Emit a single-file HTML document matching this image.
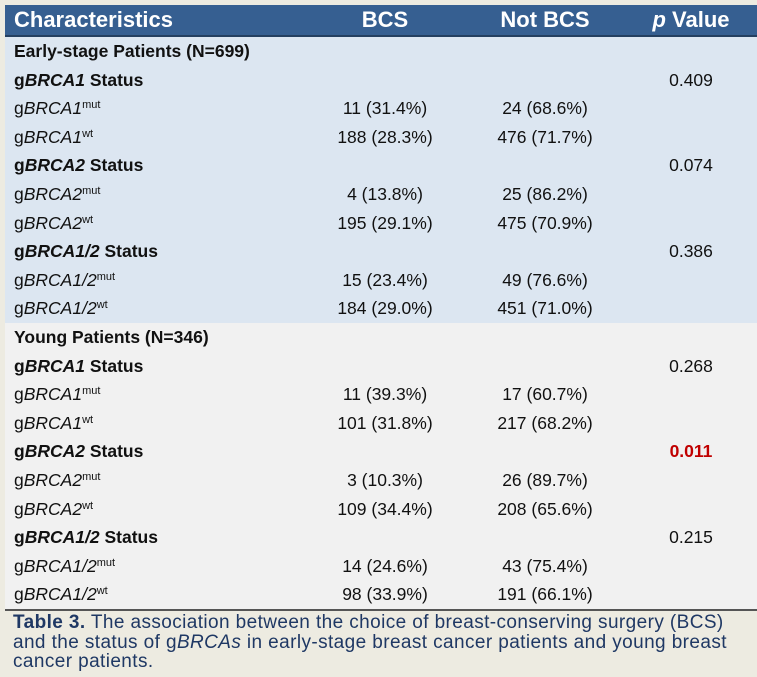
<!DOCTYPE html>
<html><head><meta charset="utf-8"><style>
body{margin:0;width:757px;height:677px;background:#edebe1;position:relative;overflow:hidden;font-family:"Liberation Sans",Arial,sans-serif;}
.hdr{position:absolute;left:5px;top:5px;width:752px;height:30px;background:#365f91;border-bottom:2px solid #243f60;}
.hdr div{position:absolute;top:2px;color:#fff;font-weight:bold;font-size:22px;line-height:26px;}
.sec{position:absolute;left:5px;width:752px;}
.r{position:absolute;left:0;width:752px;height:28.6px;font-size:17.5px;line-height:28.6px;color:#111;}
.r span{position:absolute;}
.c0{left:9px;}
.c1{left:275px;width:210px;text-align:center;}
.c2{left:435px;width:210px;text-align:center;}
.c3{left:631px;width:110px;text-align:center;}
.b{font-weight:bold;}
sup{font-size:11px;vertical-align:0;position:relative;top:-6px;}
.cap{position:absolute;left:13px;top:613px;font-size:19px;letter-spacing:0.4px;line-height:19.5px;color:#1f3864;white-space:nowrap;}
</style></head><body>
<div class="hdr">
<div style="left:9px">Characteristics</div>
<div style="left:275px;width:210px;text-align:center">BCS</div>
<div style="left:435px;width:210px;text-align:center">Not BCS</div>
<div style="left:631px;width:110px;text-align:center"><i>p</i> Value</div>
</div>
<div class="sec" style="top:37px;height:286px;background:#dce6f1;">
<div class="r b" style="top:0"><span class="c0">Early-stage Patients (N=699)</span></div>
<div class="r" style="top:28.6px"><span class="c0 b">g<i>BRCA1</i> Status</span><span class="c3">0.409</span></div>
<div class="r" style="top:57.2px"><span class="c0">g<i>BRCA1</i><sup>mut</sup></span><span class="c1">11 (31.4%)</span><span class="c2">24 (68.6%)</span></div>
<div class="r" style="top:85.8px"><span class="c0">g<i>BRCA1</i><sup>wt</sup></span><span class="c1">188 (28.3%)</span><span class="c2">476 (71.7%)</span></div>
<div class="r" style="top:114.4px"><span class="c0 b">g<i>BRCA2</i> Status</span><span class="c3">0.074</span></div>
<div class="r" style="top:143px"><span class="c0">g<i>BRCA2</i><sup>mut</sup></span><span class="c1">4 (13.8%)</span><span class="c2">25 (86.2%)</span></div>
<div class="r" style="top:171.6px"><span class="c0">g<i>BRCA2</i><sup>wt</sup></span><span class="c1">195 (29.1%)</span><span class="c2">475 (70.9%)</span></div>
<div class="r" style="top:200.2px"><span class="c0 b">g<i>BRCA1/2</i> Status</span><span class="c3">0.386</span></div>
<div class="r" style="top:228.8px"><span class="c0">g<i>BRCA1/2</i><sup>mut</sup></span><span class="c1">15 (23.4%)</span><span class="c2">49 (76.6%)</span></div>
<div class="r" style="top:257.4px"><span class="c0">g<i>BRCA1/2</i><sup>wt</sup></span><span class="c1">184 (29.0%)</span><span class="c2">451 (71.0%)</span></div>
</div>
<div class="sec" style="top:323px;height:286px;background:#f1f1f1;border-bottom:2px solid #555;">
<div class="r b" style="top:0"><span class="c0">Young Patients (N=346)</span></div>
<div class="r" style="top:28.6px"><span class="c0 b">g<i>BRCA1</i> Status</span><span class="c3">0.268</span></div>
<div class="r" style="top:57.2px"><span class="c0">g<i>BRCA1</i><sup>mut</sup></span><span class="c1">11 (39.3%)</span><span class="c2">17 (60.7%)</span></div>
<div class="r" style="top:85.8px"><span class="c0">g<i>BRCA1</i><sup>wt</sup></span><span class="c1">101 (31.8%)</span><span class="c2">217 (68.2%)</span></div>
<div class="r" style="top:114.4px"><span class="c0 b">g<i>BRCA2</i> Status</span><span class="c3 b" style="color:#c00000">0.011</span></div>
<div class="r" style="top:143px"><span class="c0">g<i>BRCA2</i><sup>mut</sup></span><span class="c1">3 (10.3%)</span><span class="c2">26 (89.7%)</span></div>
<div class="r" style="top:171.6px"><span class="c0">g<i>BRCA2</i><sup>wt</sup></span><span class="c1">109 (34.4%)</span><span class="c2">208 (65.6%)</span></div>
<div class="r" style="top:200.2px"><span class="c0 b">g<i>BRCA1/2</i> Status</span><span class="c3">0.215</span></div>
<div class="r" style="top:228.8px"><span class="c0">g<i>BRCA1/2</i><sup>mut</sup></span><span class="c1">14 (24.6%)</span><span class="c2">43 (75.4%)</span></div>
<div class="r" style="top:257.4px"><span class="c0">g<i>BRCA1/2</i><sup>wt</sup></span><span class="c1">98 (33.9%)</span><span class="c2">191 (66.1%)</span></div>
</div>
<div class="cap"><b>Table 3.</b> The association between the choice of breast-conserving surgery (BCS)<br>and the status of g<i>BRCAs</i> in early-stage breast cancer patients and young breast<br>cancer patients.</div>
</body></html>
